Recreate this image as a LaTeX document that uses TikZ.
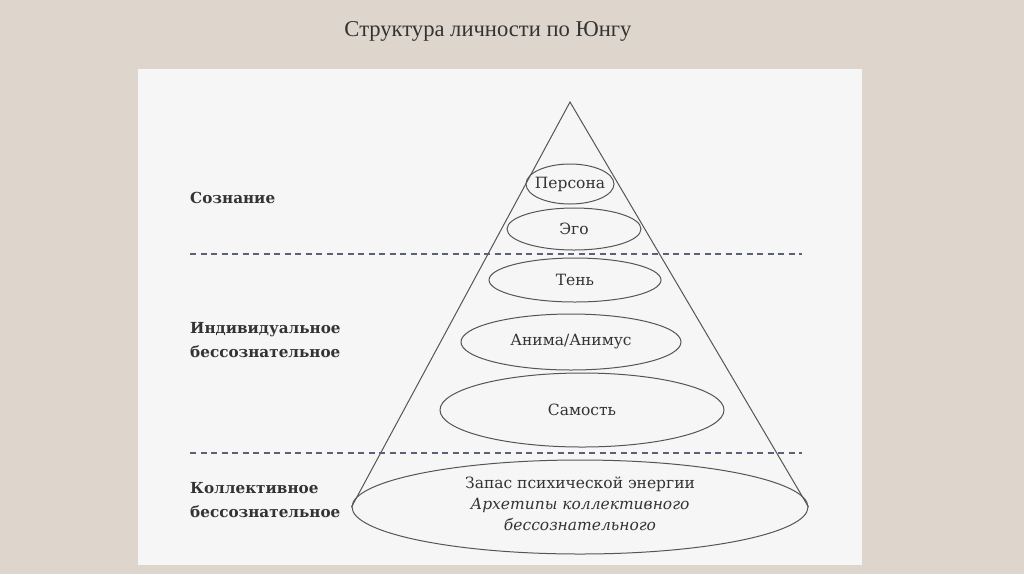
\documentclass[tikz,border=0pt]{standalone}
\usepackage{fontspec}
\setmainfont{DejaVu Serif}
\newfontfamily\titlefont{Liberation Serif}
\usetikzlibrary{shapes.geometric}
\definecolor{bgc}{HTML}{DED5CC}
\definecolor{panelc}{HTML}{F6F6F6}
\definecolor{linec}{HTML}{555555}
\definecolor{dashc}{HTML}{5B6275}
\definecolor{textc}{HTML}{333333}
\tikzset{
  layer/.style={ellipse, draw=linec, line width=1pt, inner xsep=-25pt, inner ysep=-10pt, text=textc,
     font=\fontsize{15.5}{18}\selectfont, align=center},
  sidelabel/.style={anchor=west, inner sep=0pt, text=textc, align=left,
     font=\fontsize{15.2}{24}\selectfont\bfseries},
  divider/.style={dashc, line width=1.3pt, dash pattern=on 6pt off 4.5pt},
  edge/.style={linec, line width=1pt}
}
\begin{document}
\begin{tikzpicture}[x=1pt,y=-1pt]
\fill[bgc] (0,0) rectangle (1024,574);
\useasboundingbox (0,0) rectangle (1024,574);
\fill[panelc] (138,69) rectangle (862,565);
\node[text=textc, font=\titlefont\fontsize{22.6}{26}\selectfont] (title) at (488,31) {Структура личности по Юнгу};
% layers
\node[layer, minimum width=456pt, minimum height=94pt] (bot) at (580,507) {};
\node[text=textc, align=center, inner sep=0pt, font=\fontsize{15.5}{21}\selectfont] (bottext) at (580,504)
  {Запас психической энергии\\ \itshape Архетипы коллективного\\ \itshape бессознательного};
\coordinate (apex) at (570,102);
\draw[edge] (bot.west) -- (apex) -- (bot.east);
\node[layer, minimum width=88pt, minimum height=40pt] (persona) at (570,184) {Персона};
\node[layer, minimum width=134pt, minimum height=42pt] (ego) at (574,229) {Эго};
\node[layer, minimum width=172pt, minimum height=44pt] (shadow) at (575,280) {Тень};
\node[layer, minimum width=220pt, minimum height=56pt] (anima) at (571,342) {Анима/Анимус};
\node[layer, minimum width=284pt, minimum height=74pt] (self) at (582,410) {Самость};
% dividers
\coordinate (d1l) at (190,254); \coordinate (d1r) at (802,254);
\coordinate (d2l) at (190,453); \coordinate (d2r) at (802,453);
\draw[divider] (d1l) -- (d1r);
\draw[divider] (d2l) -- (d2r);
% side labels
\node[sidelabel] (consc) at (190,198) {Сознание};
\node[sidelabel] (indiv) at (190,340) {Индивидуальное\\бессознательное};
\node[sidelabel] (coll) at (190,500) {Коллективное\\бессознательное};
\end{tikzpicture}
\end{document}
